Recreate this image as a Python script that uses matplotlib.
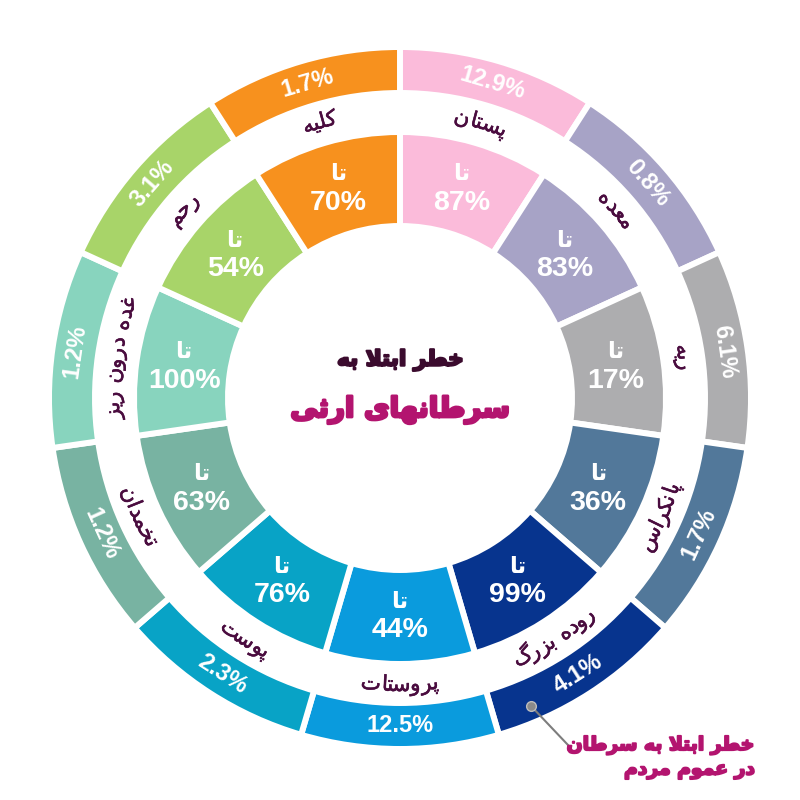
import numpy as np
import matplotlib
matplotlib.use("Agg")
import matplotlib.pyplot as plt
import matplotlib.patheffects as pe
from matplotlib.patches import Wedge
from matplotlib.font_manager import FontProperties, findfont, get_font
from matplotlib.ft2font import LoadFlags

# ── Data ─────────────────────────────────────────────────────────────────────
cancers = ["پستان", "معده", "ریه", "پانکراس", "روده بزرگ", "پروستات",
           "پوست", "تخمدان", "غده درون ریز", "رحم", "کلیه"]
general_risk = [12.9, 0.8, 6.1, 1.7, 4.1, 12.5, 2.3, 1.2, 1.2, 3.1, 1.7]
hereditary_risk = [87, 83, 17, 36, 99, 44, 76, 63, 100, 54, 70]
colors = ["#FBBBDA", "#A7A3C6", "#ADADAF", "#52789A", "#07348E", "#0A9BDD",
          "#08A3C6", "#78B3A2", "#88D4BE", "#A8D469", "#F7911E"]

title_line1 = "خطر ابتلا به"
title_line2 = "سرطانهای ارثی"
upto = "تا"
note_lines = ["خطر ابتلا به سرطان", "در عموم مردم"]

LABEL_COLOR = "#4A0C3F"
MAGENTA = "#B3146F"
DARK = "#3B0B2E"

# ── minimal Persian shaping (presentation forms + RTL order) ─────────────────
FORMS = {
    "ا": (0xFE8D, 0xFE8E), "د": (0xFEA9, 0xFEAA), "ر": (0xFEAD, 0xFEAE),
    "ز": (0xFEAF, 0xFEB0), "و": (0xFEED, 0xFEEE), "لا": (0xFEFB, 0xFEFC),
    "ب": (0xFE8F, 0xFE90, 0xFE91, 0xFE92), "ت": (0xFE95, 0xFE96, 0xFE97, 0xFE98),
    "ث": (0xFE99, 0xFE9A, 0xFE9B, 0xFE9C), "ح": (0xFEA1, 0xFEA2, 0xFEA3, 0xFEA4),
    "خ": (0xFEA5, 0xFEA6, 0xFEA7, 0xFEA8), "س": (0xFEB1, 0xFEB2, 0xFEB3, 0xFEB4),
    "ط": (0xFEC1, 0xFEC2, 0xFEC3, 0xFEC4), "ع": (0xFEC9, 0xFECA, 0xFECB, 0xFECC),
    "غ": (0xFECD, 0xFECE, 0xFECF, 0xFED0), "ل": (0xFEDD, 0xFEDE, 0xFEDF, 0xFEE0),
    "م": (0xFEE1, 0xFEE2, 0xFEE3, 0xFEE4), "ن": (0xFEE5, 0xFEE6, 0xFEE7, 0xFEE8),
    "ه": (0xFEE9, 0xFEEA, 0xFEEB, 0xFEEC), "پ": (0xFB56, 0xFB57, 0xFB58, 0xFB59),
    "ک": (0xFB8E, 0xFB8F, 0xFB90, 0xFB91), "گ": (0xFB92, 0xFB93, 0xFB94, 0xFB95),
    "ی": (0xFBFC, 0xFBFD, 0xFBFE, 0xFBFF),
}


def shape(text):
    tokens, i = [], 0
    while i < len(text):
        if text[i] == "ل" and i + 1 < len(text) and text[i + 1] == "ا":
            tokens.append("لا")
            i += 2
        else:
            tokens.append(text[i])
            i += 1
    out = []
    for k, t in enumerate(tokens):
        f = FORMS.get(t)
        if f is None:
            out.append(t)
            continue
        prev = tokens[k - 1] if k > 0 else None
        nxt = tokens[k + 1] if k + 1 < len(tokens) else None
        jp = prev in FORMS and len(FORMS[prev]) == 4
        jn = len(f) == 4 and nxt in FORMS
        if jp and jn:
            c = f[3]
        elif jp:
            c = f[1]
        elif jn:
            c = f[2]
        else:
            c = f[0]
        out.append(chr(c))
    return "".join(reversed(out))


def heavy(color, w):
    return [pe.withStroke(linewidth=w, foreground=color)]


# ── geometry (data units = pixels) ───────────────────────────────────────────
DPI = 100
CX, CY = 400, 402
N = len(cancers)
STEP = 360 / N

fig = plt.figure(figsize=(8, 8), dpi=DPI)
ax = fig.add_axes([0, 0, 1, 1])
ax.set_xlim(0, 800)
ax.set_ylim(0, 800)
ax.set_aspect("equal")
ax.axis("off")

ARABIC_FP = FontProperties(family="DejaVu Sans", size=15.5)


def arc_text(s, theta_c, r_mid, color, fp=ARABIC_FP):
    """Place an already-shaped (visual order) string along an arc."""
    size = fp.get_size_in_points()
    font = get_font(findfont(fp))
    font.set_size(size, DPI)
    items, pen = [], 0.0
    for ch in s:
        g = font.load_char(ord(ch), flags=LoadFlags.NO_HINTING)
        ink_c = (g.horiBearingX + g.width / 2) / 64
        items.append((ch, pen + ink_c, g.width))
        pen += g.linearHoriAdvance / 65536
    total = pen
    top = np.sin(np.radians(theta_c)) > 0
    px = size * DPI / 72
    r = r_mid - 0.28 * px if top else r_mid + 0.28 * px
    for ch, pos, w in items:
        if ch == " " or w == 0:
            continue
        d = np.degrees((pos - total / 2) / r)
        th = theta_c - d if top else theta_c + d
        rot = th - 90 if top else th + 90
        ax.text(CX + r * np.cos(np.radians(th)), CY + r * np.sin(np.radians(th)),
                ch, rotation=rot, rotation_mode="anchor", ha="center",
                va="baseline", color=color, fontproperties=fp,
                path_effects=heavy(color, 0.4))


for i in range(N):
    t2 = 90 - i * STEP
    t1 = t2 - STEP
    tc = (t1 + t2) / 2
    ang = np.radians(tc)
    # outer ring: general population
    ax.add_patch(Wedge((CX, CY), 351, t1, t2, width=46, facecolor=colors[i],
                       edgecolor="white", linewidth=4.3))
    # inner ring: hereditary
    ax.add_patch(Wedge((CX, CY), 266, t1, t2, width=94, facecolor=colors[i],
                       edgecolor="white", linewidth=4.3))

    top = np.sin(ang) > 0
    rot = tc - 90 if top else tc + 90
    ax.text(CX + 328 * np.cos(ang), CY + 328 * np.sin(ang), f"{general_risk[i]}%",
            rotation=rot, rotation_mode="anchor", ha="center", va="center",
            fontsize=17, fontweight="bold", color="white", family="Liberation Sans")

    x, y = CX + 218 * np.cos(ang), CY + 218 * np.sin(ang)
    ax.text(x, y + 15, shape(upto), ha="center", va="center", fontsize=16.5,
            fontweight="bold", color="white", family="DejaVu Sans")
    ax.text(x, y - 14, f"{hereditary_risk[i]}%", ha="center", va="center",
            fontsize=20.5, fontweight="bold", color="white", family="Liberation Sans")

    arc_text(shape(cancers[i]), tc, 287, LABEL_COLOR)

# centre title
ax.text(CX, 440, shape(title_line1), ha="center", va="center", fontsize=15.5,
        fontweight="bold", color=DARK, family="DejaVu Sans",
        path_effects=heavy(DARK, 1.6))
ax.text(CX, 390, shape(title_line2), ha="center", va="center", fontsize=20,
        fontweight="bold", color=MAGENTA, family="DejaVu Sans",
        path_effects=heavy(MAGENTA, 2.0))

# annotation for the outer ring
ax.plot([531, 568], [94, 55], color="#7d7d7d", lw=1.5)
ax.plot([531], [94], "o", ms=7, color="#8a8a8a", mec="#bdbdbd", mew=1)
for k, line in enumerate(note_lines):
    ax.text(755, 55 - 25 * k, shape(line), ha="right", va="center", fontsize=13.5,
            fontweight="bold", color=MAGENTA, family="DejaVu Sans",
            path_effects=heavy(MAGENTA, 1.4))

fig.savefig("out.png", dpi=DPI, facecolor="white")
